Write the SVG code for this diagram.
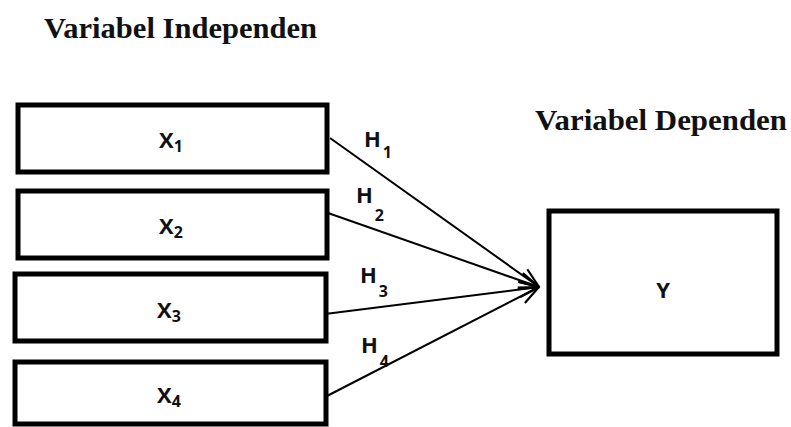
<svg xmlns="http://www.w3.org/2000/svg" width="791" height="427" viewBox="0 0 791 427">
  <style>
    .box { fill: #fff; stroke: #000; stroke-width: 5; }
    .title { font-family: "Liberation Serif", "DejaVu Serif", serif; font-weight: bold; font-size: 30px; fill: #111; }
    .lbl { font-family: "Open Sans", "DejaVu Sans", sans-serif; font-weight: bold; font-size: 22px; fill: #111; }
    .sub { font-size: 16px; }
    .edge { stroke: #000; stroke-width: 2; fill: none; marker-end: url(#open); }
  </style>
  <defs>
    <marker id="open" viewBox="0 0 20 20" refX="19" refY="10" markerWidth="22" markerHeight="22" markerUnits="userSpaceOnUse" orient="auto">
      <path d="M1,3 L19,10 L1,17" fill="none" stroke="#000" stroke-width="2"/>
    </marker>
  </defs>

  <rect width="791" height="427" fill="#fff"/>

  <text class="title" x="44" y="38" textLength="273" lengthAdjust="spacingAndGlyphs">Variabel Independen</text>
  <text class="title" x="535" y="130" textLength="252" lengthAdjust="spacingAndGlyphs">Variabel Dependen</text>

  <g id="connectors">
    <line class="edge" x1="330" y1="138" x2="539" y2="287"/>
    <line class="edge" x1="328" y1="213" x2="539" y2="287"/>
    <line class="edge" x1="325" y1="314" x2="539" y2="287"/>
    <line class="edge" x1="325" y1="397" x2="539" y2="287"/>
    <text class="lbl" x="364" y="147">H<tspan class="sub" dx="2" dy="11">1</tspan></text>
    <text class="lbl" x="356" y="203">H<tspan class="sub" dx="2" dy="18">2</tspan></text>
    <text class="lbl" x="360" y="283">H<tspan class="sub" dx="2" dy="14">3</tspan></text>
    <text class="lbl" x="361" y="353">H<tspan class="sub" dx="2" dy="14">4</tspan></text>
  </g>

  <g id="x1">
    <rect class="box" x="18" y="105" width="309" height="67"/>
    <text class="lbl" x="159" y="148">X<tspan class="sub" dy="4">1</tspan></text>
  </g>
  <g id="x2">
    <rect class="box" x="18" y="191" width="309" height="67"/>
    <text class="lbl" x="159" y="234">X<tspan class="sub" dy="4">2</tspan></text>
  </g>
  <g id="x3">
    <rect class="box" x="15" y="274" width="311" height="67"/>
    <text class="lbl" x="157" y="318">X<tspan class="sub" dy="4">3</tspan></text>
  </g>
  <g id="x4">
    <rect class="box" x="15" y="362" width="311" height="62"/>
    <text class="lbl" x="157" y="403">X<tspan class="sub" dy="4">4</tspan></text>
  </g>
  <g id="y">
    <rect class="box" x="549" y="211" width="228" height="143"/>
    <text class="lbl" x="663" y="298" text-anchor="middle">Y</text>
  </g>
</svg>
